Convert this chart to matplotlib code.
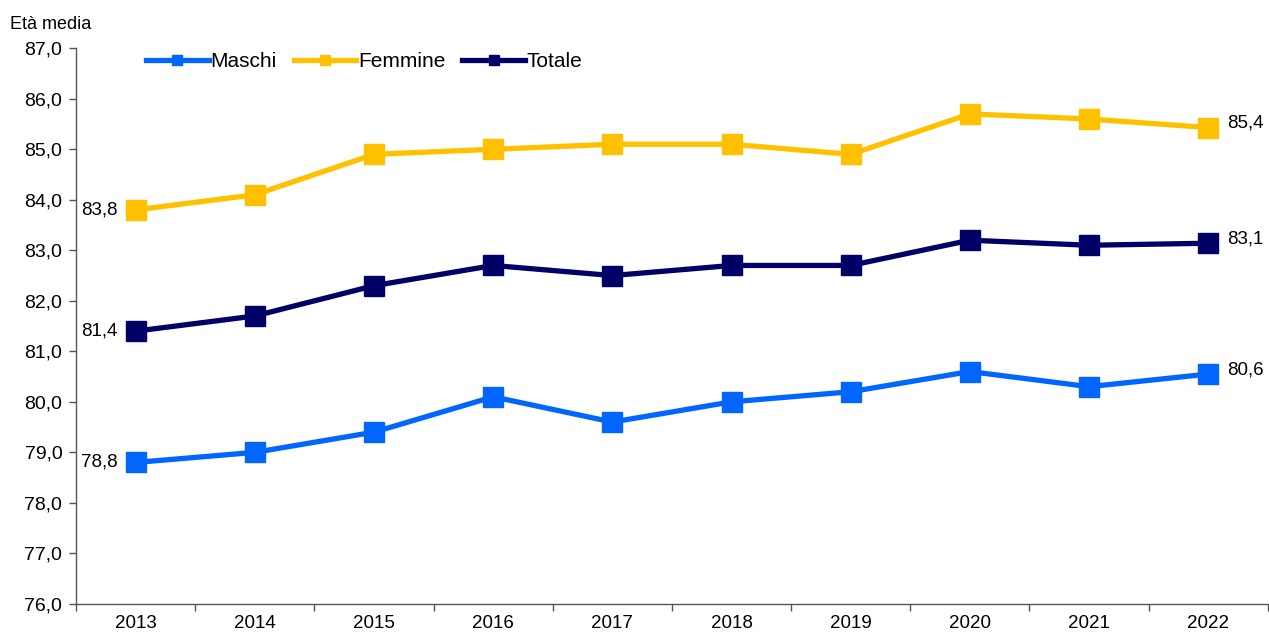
import matplotlib.pyplot as plt
from matplotlib.ticker import FixedLocator, NullFormatter, FuncFormatter

plt.rcParams['font.family'] = ['Liberation Sans', 'DejaVu Sans']

# dati
anni = ['2013', '2014', '2015', '2016', '2017', '2018', '2019', '2020', '2021', '2022']
maschi = [78.8, 79.0, 79.4, 80.1, 79.6, 80.0, 80.2, 80.6, 80.3, 80.55]
femmine = [83.8, 84.1, 84.9, 85.0, 85.1, 85.1, 84.9, 85.7, 85.6, 85.43]
totale = [81.4, 81.7, 82.3, 82.7, 82.5, 82.7, 82.7, 83.2, 83.1, 83.14]
etichette_inizio = ['78,8', '83,8', '81,4']
etichette_fine = ['80,6', '85,4', '83,1']

colori = {'Maschi': '#0066FF', 'Femmine': '#FFC000', 'Totale': '#000066'}

fig = plt.figure(figsize=(12.69, 6.35), dpi=100)
ax = fig.add_axes([0.06, 0.049, 0.939, 0.875])

x = list(range(len(anni)))
serie = [('Maschi', maschi), ('Femmine', femmine), ('Totale', totale)]
for nome, valori in serie:
    ax.plot(x, valori, color=colori[nome], lw=3.8, marker='s', markersize=14,
            label=nome, solid_joinstyle='round')

for (nome, valori), s0, s1 in zip(serie, etichette_inizio, etichette_fine):
    ax.annotate(s0, (x[0], valori[0]), xytext=(-13, 0), textcoords='offset points',
                ha='right', va='center', fontsize=13.5)
    ax.annotate(s1, (x[-1], valori[-1]), xytext=(14, 3), textcoords='offset points',
                ha='left', va='center', fontsize=13.5)

ax.set_xlim(-0.5, len(anni) - 0.5)
ax.set_ylim(76, 87)
ax.set_yticks(range(76, 88))
ax.yaxis.set_major_formatter(FuncFormatter(lambda v, p: f'{v:.1f}'.replace('.', ',')))
ax.xaxis.set_major_locator(FixedLocator([i - 0.5 for i in range(len(anni) + 1)]))
ax.xaxis.set_major_formatter(NullFormatter())
ax.xaxis.set_minor_locator(FixedLocator(x))
ax.set_xticklabels(anni, minor=True)
ax.tick_params(axis='x', which='minor', length=0, labelsize=13.5, pad=8)
ax.tick_params(axis='x', which='major', length=5, width=1, color='#555555')
ax.tick_params(axis='y', length=5, width=1, color='#555555', labelsize=14, pad=5)

for lato in ['top', 'right']:
    ax.spines[lato].set_visible(False)
for lato in ['left', 'bottom']:
    ax.spines[lato].set_color('#555555')
    ax.spines[lato].set_linewidth(1)

fig.text(0.008, 0.962, 'Età media', fontsize=13, va='center', ha='left')

leg = ax.legend(loc='upper left', bbox_to_anchor=(0.043, 1.027), ncol=3, frameon=False,
                fontsize=15, handlelength=3.0, handletextpad=0.1, columnspacing=0.8,
                markerscale=0.55)

fig.savefig('out.png', dpi=100)
